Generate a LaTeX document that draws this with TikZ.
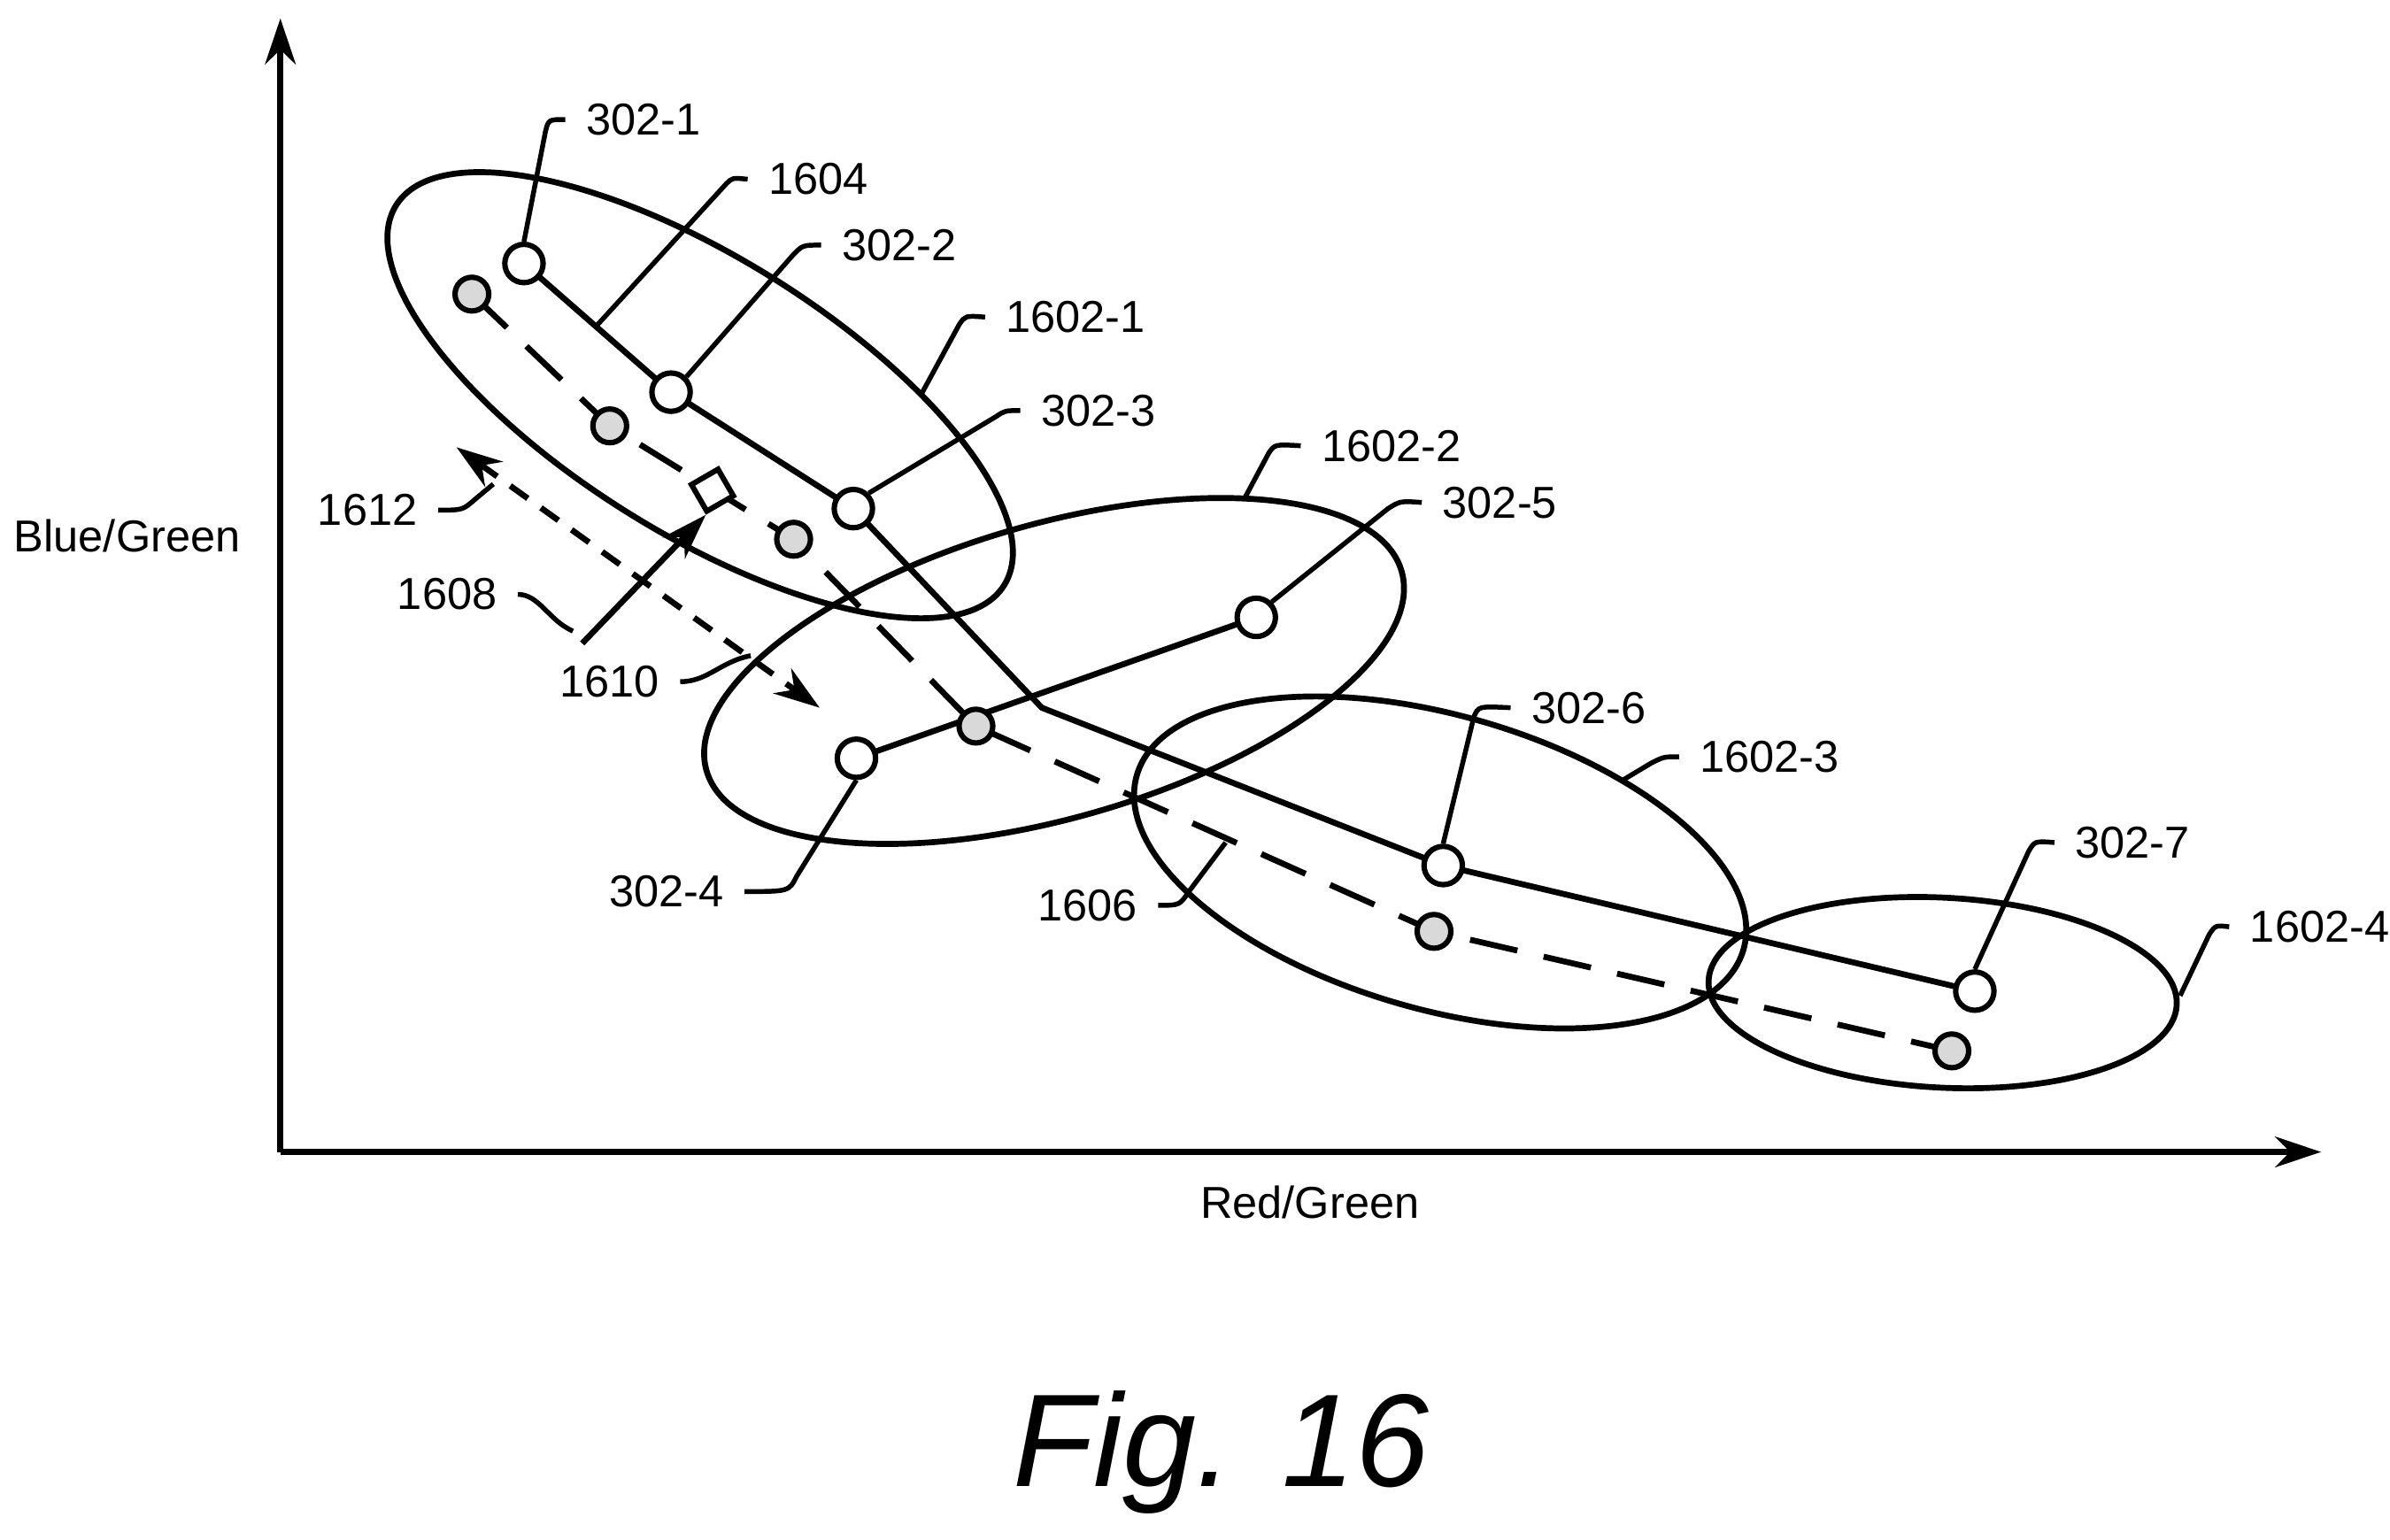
\documentclass[tikz,border=0pt]{standalone}
\usepackage{fontspec}
\setmainfont{Liberation Sans}
\usetikzlibrary{arrows.meta,shapes.geometric}

\tikzset{
  pt/.style={circle,draw,fill=white,line width=1pt,inner sep=0pt,minimum size=0.25cm},
  gp/.style={circle,draw,fill=gray!30,line width=1pt,inner sep=0pt,minimum size=0.22cm},
  lbl/.style={anchor=west,font=\fontsize{8.3}{10}\selectfont},
  lead/.style={line width=0.9pt},
}

\begin{document}
\begin{tikzpicture}[x=0.01cm,y=-0.01cm,line width=1.1pt]
\useasboundingbox (0,0) rectangle (1560,1005);

% axes
\draw[-{Stealth[length=0.3cm,width=0.2cm]}] (183,752) -- (183,12);
\draw[-{Stealth[length=0.3cm,width=0.2cm]}] (183,752) -- (1515,752);
\node[font=\fontsize{8.3}{10}\selectfont] (ylab) at (83,350) {Blue/Green};
\node[font=\fontsize{8.3}{10}\selectfont] (xlab) at (855,785) {Red/Green};
\node[font=\itshape\fontsize{24.5}{28}\selectfont] (fig) at (797,948) {Fig. 16};

% clusters
\draw (457,258) ellipse[x radius=234,y radius=90,rotate=-32];
\draw (688,438) ellipse[x radius=236,y radius=96,rotate=16];
\draw (940,563) ellipse[x radius=206,y radius=96,rotate=-16];
\draw (1268,648) ellipse[x radius=153,y radius=62,rotate=-3];

% dashed path
\draw[dashed,dash pattern=on 9pt off 5pt] (308,192) -- (398,278) -- (518,352) -- (637,474) -- (936,608) -- (1274,686);
% solid paths
\coordinate (bend) at (680,462);
\draw (342,172) -- (438,256) -- (557,332) -- (bend) -- (942,565) -- (1289,647);
\draw (559,495) -- (820,403);

\node[pt] (p1) at (342,172) {};
\node[pt] (p2) at (438,256) {};
\node[pt] (p3) at (557,332) {};
\node[pt] (p4) at (559,495) {};
\node[pt] (p5) at (820,403) {};
\node[pt] (p6) at (942,565) {};
\node[pt] (p7) at (1289,647) {};
\node[gp] (g1) at (308,192) {};
\node[gp] (g2) at (398,278) {};
\node[gp] (g3) at (518,352) {};
\node[gp] (g4) at (637,474) {};
\node[gp] (g5) at (936,608) {};
\node[gp] (g6) at (1274,686) {};
\node[draw,fill=white,line width=1pt,minimum size=0.2cm,inner sep=0pt,rotate=30] (sq) at (465,320) {};

% arrows
\coordinate (a1) at (380,420);
\draw[-{Stealth[length=0.3cm,width=0.2cm]}] (a1) -- (sq.south west);
\coordinate (d1) at (298,292);
\coordinate (d2) at (535,462);
\draw[dash pattern=on 4pt off 3pt,{Stealth[length=0.3cm,width=0.2cm]}-{Stealth[length=0.3cm,width=0.2cm]}] (d1) -- (d2);

% labels
\node[lbl] (t1) at (369,78) {302-1};
\node[lbl] (t1604) at (488,117) {1604};
\node[lbl] (t2) at (536,160) {302-2};
\node[lbl] (t16021) at (643,207) {1602-1};
\node[lbl] (t3) at (666,268) {302-3};
\node[lbl] (t16022) at (849,291) {1602-2};
\node[lbl] (t5) at (928,328) {302-5};
\node[lbl] (t6) at (986,462) {302-6};
\node[lbl] (t16023) at (1096,494) {1602-3};
\node[lbl] (t7) at (1341,550) {302-7};
\node[lbl] (t16024) at (1455,605) {1602-4};
\node[lbl,anchor=east] (t1606) at (756,591) {1606};
\node[lbl,anchor=east] (t4) at (486,582) {302-4};
\node[lbl,anchor=east] (t1612) at (286,333) {1612};
\node[lbl,anchor=east] (t1608) at (338,388) {1608};
\node[lbl,anchor=east] (t1610) at (444,445) {1610};

% leaders
\draw[lead] (p1.north) -- (356,86) .. controls (358,78) .. (t1.west);
\draw[lead] (390,212) -- (474,120) .. controls (478,116) .. (t1604.west);
\draw[lead] (p2.north east) -- (518,166) .. controls (524,160) .. (t2.west);
\draw[lead] (601,258) -- (626,212) .. controls (630,206) .. (t16021.west);
\draw[lead] (p3.north east) -- (650,272) .. controls (656,268) .. (t3.west);
\draw[lead] (812,326) -- (828,296) .. controls (832,290) .. (t16022.west);
\draw[lead] (p5.north east) -- (906,332) .. controls (914,327) .. (t5.west);
\draw[lead] (p6.north) -- (962,468) .. controls (965,461) .. (t6.west);
\draw[lead] (1058,510) -- (1078,498) .. controls (1086,494) .. (t16023.west);
\draw[lead] (p7.north) -- (1324,556) .. controls (1328,549) .. (t7.west);
\draw[lead] (1423,650) -- (1442,610) .. controls (1446,604) .. (t16024.west);
\draw[lead] (t1606.east) .. controls (770,591) .. (776,582) -- (800,550);
\draw[lead] (t4.east) .. controls (515,582) .. (520,572) -- (p4.south);
\draw[lead] (t1612.east) .. controls (302,333) .. (310,326) -- (322,316);
\draw[lead] (t1608.east) .. controls (352,388) and (358,405) .. (374,412);
\draw[lead] (t1610.east) .. controls (462,445) and (470,432) .. (490,428);
\end{tikzpicture}
\end{document}
